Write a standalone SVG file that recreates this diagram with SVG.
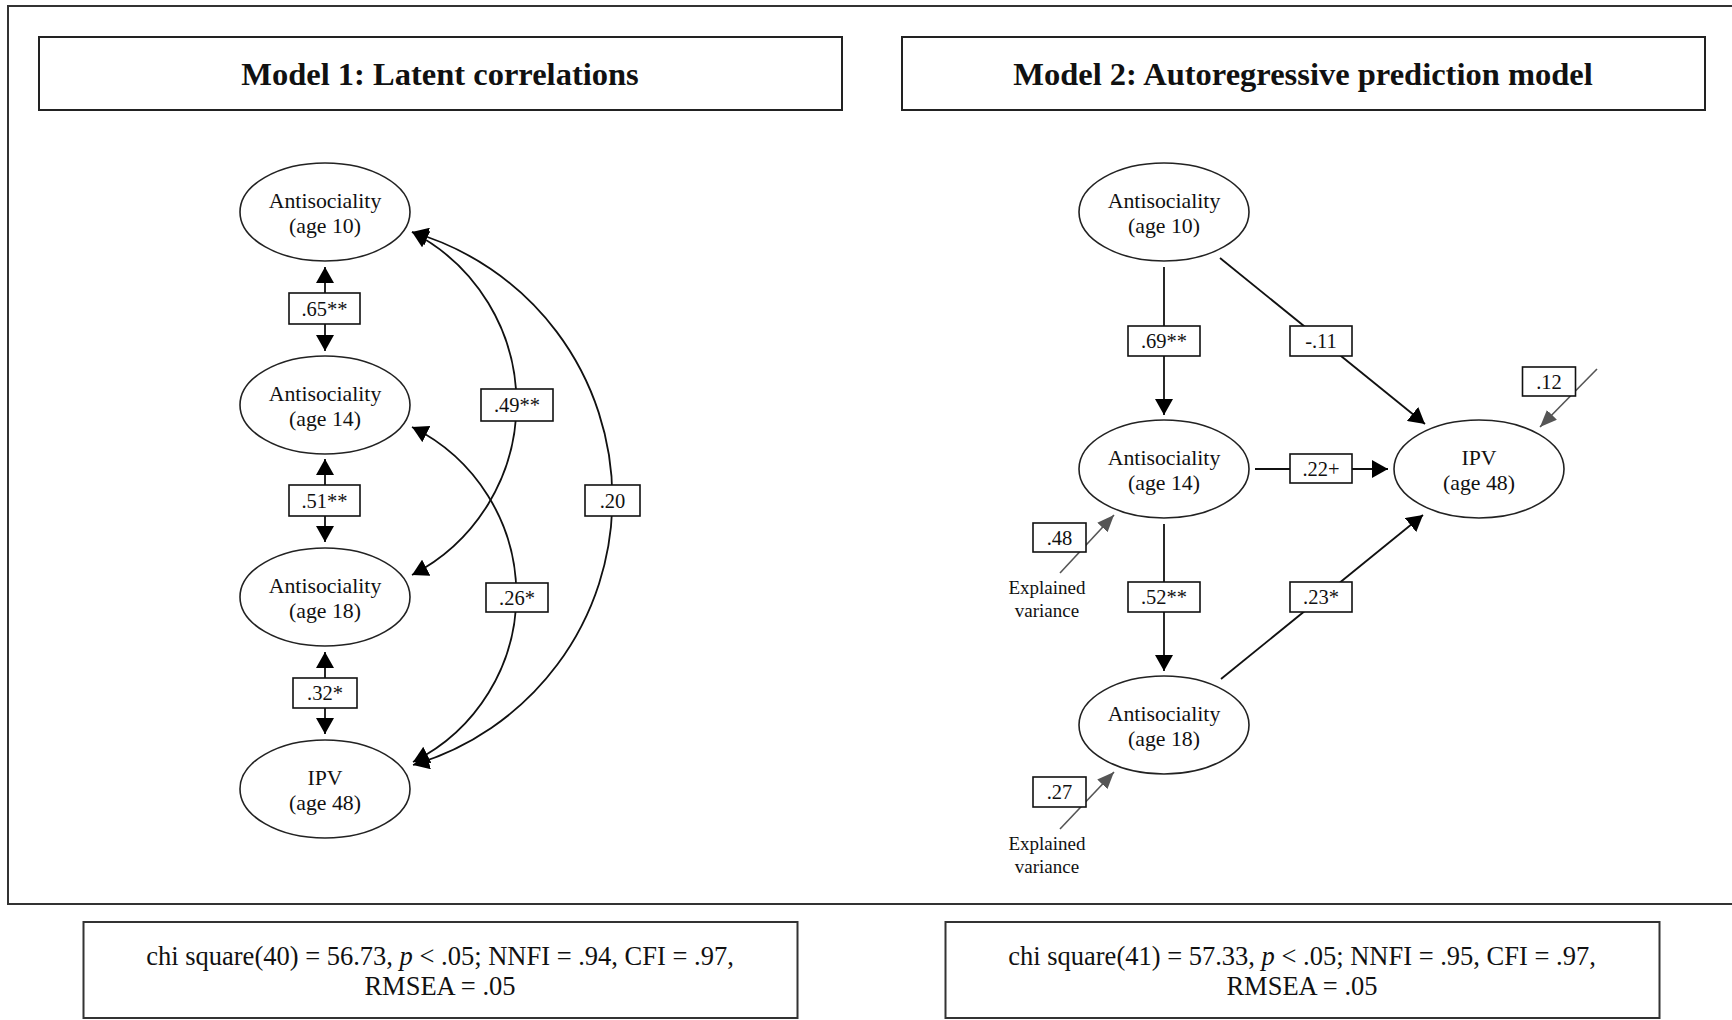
<svg xmlns="http://www.w3.org/2000/svg" width="1732" height="1020" viewBox="0 0 1732 1020">
<style>
  .frame{fill:none;stroke:#333;stroke-width:2}
  .tbox{fill:#fff;stroke:#222;stroke-width:2}
  .title{font-family:"Liberation Serif","Times New Roman",serif;font-weight:bold;font-size:32.5px;fill:#111;text-anchor:middle}
  .node ellipse{fill:#fff;stroke:#222;stroke-width:1.6}
  .node text{font-family:"Liberation Serif","Times New Roman",serif;font-size:21.8px;fill:#111;text-anchor:middle}
  .lbl rect{fill:#fff;stroke:#111;stroke-width:1.6}
  .lbl text{font-family:"Liberation Serif","Times New Roman",serif;font-size:20.5px;fill:#111;text-anchor:middle}
  .edge{fill:none;stroke:#111;stroke-width:1.8}
  .gedge{fill:none;stroke:#555;stroke-width:1.6}
  .note{font-family:"Liberation Serif","Times New Roman",serif;font-size:19px;fill:#111;text-anchor:middle}
  .fit{font-family:"Liberation Serif","Times New Roman",serif;font-size:26.5px;fill:#111;text-anchor:middle}
  .fbox{fill:#fff;stroke:#333;stroke-width:2}
</style>
<defs>
  <marker id="ah" viewBox="0 0 16 18" refX="16" refY="9" markerWidth="16" markerHeight="18" markerUnits="userSpaceOnUse" orient="auto-start-reverse">
    <path d="M0,0 L16,9 L0,18 z" fill="#000"/>
  </marker>
  <marker id="gah" viewBox="0 0 17 14" refX="17" refY="7" markerWidth="17" markerHeight="14" markerUnits="userSpaceOnUse" orient="auto">
    <path d="M0,0 L17,7 L0,14 z" fill="#555"/>
  </marker>
</defs>
<rect width="1732" height="1020" fill="#fff"/>
<rect class="frame" x="8" y="6" width="1740" height="898"/>

<g id="title1"><rect class="tbox" x="39" y="37" width="803" height="73"/><text class="title" x="440" y="85">Model 1: Latent correlations</text></g>
<g id="title2"><rect class="tbox" x="902" y="37" width="803" height="73"/><text class="title" x="1303" y="85">Model 2: Autoregressive prediction model</text></g>

<g id="connectors">
  <!-- Model 1 -->
  <line class="edge" x1="325" y1="293" x2="325" y2="267" marker-end="url(#ah)"/>
  <line class="edge" x1="325" y1="324" x2="325" y2="351" marker-end="url(#ah)"/>
  <line class="edge" x1="325" y1="485" x2="325" y2="459" marker-end="url(#ah)"/>
  <line class="edge" x1="325" y1="516" x2="325" y2="542" marker-end="url(#ah)"/>
  <line class="edge" x1="325" y1="678" x2="325" y2="652" marker-end="url(#ah)"/>
  <line class="edge" x1="325" y1="708" x2="325" y2="734" marker-end="url(#ah)"/>
  <path class="edge" d="M412,232 A193,193 0 0 1 412,575" marker-start="url(#ah)" marker-end="url(#ah)"/>
  <path class="edge" d="M412,232 A277.6,277.6 0 0 1 413,765" marker-start="url(#ah)" marker-end="url(#ah)"/>
  <path class="edge" d="M412,427 A187,187 0 0 1 413,762" marker-start="url(#ah)" marker-end="url(#ah)"/>
  <!-- Model 2 -->
  <line class="edge" x1="1164" y1="267" x2="1164" y2="415" marker-end="url(#ah)"/>
  <line class="edge" x1="1164" y1="524" x2="1164" y2="671" marker-end="url(#ah)"/>
  <line class="edge" x1="1220" y1="258" x2="1425" y2="424" marker-end="url(#ah)"/>
  <line class="edge" x1="1221" y1="679" x2="1423" y2="515" marker-end="url(#ah)"/>
  <line class="edge" x1="1255" y1="469" x2="1388" y2="469" marker-end="url(#ah)"/>
  <line class="gedge" x1="1597" y1="369" x2="1540" y2="427" marker-end="url(#gah)"/>
  <line class="gedge" x1="1060" y1="573" x2="1114" y2="515" marker-end="url(#gah)"/>
  <line class="gedge" x1="1060" y1="829" x2="1114" y2="772" marker-end="url(#gah)"/>
</g>

<g id="labels">
  <g class="lbl"><rect x="289" y="293" width="71" height="31"/><text x="324.5" y="315.5">.65**</text></g>
  <g class="lbl"><rect x="289" y="485" width="71" height="31"/><text x="324.5" y="507.5">.51**</text></g>
  <g class="lbl"><rect x="293" y="678" width="64" height="30"/><text x="325" y="700">.32*</text></g>
  <g class="lbl"><rect x="481" y="389" width="72" height="32"/><text x="517" y="412">.49**</text></g>
  <g class="lbl"><rect x="486" y="583" width="62" height="29"/><text x="517" y="604.5">.26*</text></g>
  <g class="lbl"><rect x="585" y="485" width="55" height="31"/><text x="612.5" y="507.5">.20</text></g>
  <g class="lbl"><rect x="1128" y="326" width="72" height="30"/><text x="1164" y="348">.69**</text></g>
  <g class="lbl"><rect x="1290" y="326" width="62" height="30"/><text x="1321" y="348">-.11</text></g>
  <g class="lbl"><rect x="1290" y="454" width="62" height="29"/><text x="1321" y="475.5">.22+</text></g>
  <g class="lbl"><rect x="1128" y="582" width="72" height="30"/><text x="1164" y="604">.52**</text></g>
  <g class="lbl"><rect x="1290" y="582" width="62" height="30"/><text x="1321" y="604">.23*</text></g>
  <g class="lbl"><rect x="1522.5" y="367" width="53" height="29"/><text x="1549" y="388.5">.12</text></g>
  <g class="lbl"><rect x="1033" y="523" width="53" height="29"/><text x="1059.5" y="544.5">.48</text></g>
  <g class="lbl"><rect x="1033" y="777" width="53" height="30"/><text x="1059.5" y="799">.27</text></g>
</g>

<g id="m1-age10" class="node"><ellipse cx="325" cy="212" rx="85" ry="49"/><text x="325" y="208">Antisociality</text><text x="325" y="233">(age 10)</text></g>
<g id="m1-age14" class="node"><ellipse cx="325" cy="405" rx="85" ry="49"/><text x="325" y="401">Antisociality</text><text x="325" y="426">(age 14)</text></g>
<g id="m1-age18" class="node"><ellipse cx="325" cy="597" rx="85" ry="49"/><text x="325" y="593">Antisociality</text><text x="325" y="618">(age 18)</text></g>
<g id="m1-ipv" class="node"><ellipse cx="325" cy="789" rx="85" ry="49"/><text x="325" y="785">IPV</text><text x="325" y="810">(age 48)</text></g>

<g id="m2-age10" class="node"><ellipse cx="1164" cy="212" rx="85" ry="49"/><text x="1164" y="208">Antisociality</text><text x="1164" y="233">(age 10)</text></g>
<g id="m2-age14" class="node"><ellipse cx="1164" cy="469" rx="85" ry="49"/><text x="1164" y="465">Antisociality</text><text x="1164" y="490">(age 14)</text></g>
<g id="m2-age18" class="node"><ellipse cx="1164" cy="725" rx="85" ry="49"/><text x="1164" y="721">Antisociality</text><text x="1164" y="746">(age 18)</text></g>
<g id="m2-ipv" class="node"><ellipse cx="1479" cy="469" rx="85" ry="49"/><text x="1479" y="465">IPV</text><text x="1479" y="490">(age 48)</text></g>

<g id="notes">
  <text class="note" x="1047" y="594">Explained</text><text class="note" x="1047" y="617">variance</text>
  <text class="note" x="1047" y="850">Explained</text><text class="note" x="1047" y="873">variance</text>
</g>

<g id="fit1"><rect class="fbox" x="83.5" y="922" width="714" height="96"/>
  <text class="fit" x="440" y="965">chi square(40) = 56.73, <tspan font-style="italic">p</tspan> &lt; .05; NNFI = .94, CFI = .97,</text>
  <text class="fit" x="440" y="995">RMSEA = .05</text></g>
<g id="fit2"><rect class="fbox" x="945.5" y="922" width="714" height="96"/>
  <text class="fit" x="1302" y="965">chi square(41) = 57.33, <tspan font-style="italic">p</tspan> &lt; .05; NNFI = .95, CFI = .97,</text>
  <text class="fit" x="1302" y="995">RMSEA = .05</text></g>
</svg>
